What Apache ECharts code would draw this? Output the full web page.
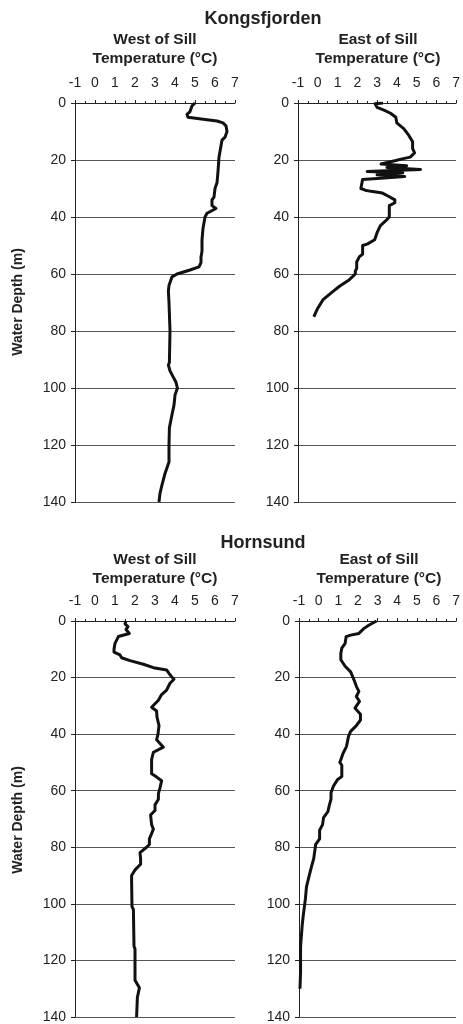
<!DOCTYPE html>
<html>
<head>
<meta charset="utf-8">
<script src="https://cdn.jsdelivr.net/npm/echarts@6/dist/echarts.min.js"></script>
<style>
  html, body { margin: 0; padding: 0; background: #fff; }
  #chart { width: 463px; height: 1024px; }
</style>
</head>
<body>
<div id="chart"></div>
<script>
// temperature ticks and depth ticks
var tempTicks = [-1, 0, 1, 2, 3, 4, 5, 6, 7];
var depthTicks = [0, 20, 40, 60, 80, 100, 120, 140];

// Kongsfjorden, west of sill
var kfWestDepth = [0, 1, 2, 3, 4, 5, 5.4, 5.8, 6.3, 7, 8, 10, 12, 13, 15, 17, 19, 24, 28, 30, 33, 34, 36, 37, 38.7, 40, 42, 44, 48, 52, 54, 56, 57.5, 58.6, 60, 61, 62, 64, 66, 70, 80, 91, 92, 94, 96, 98, 100, 102.5, 106, 110, 114, 120, 126, 130, 134, 137, 140];
var kfWestTemp = [5.0, 4.85, 4.8, 4.75, 4.6, 4.65, 4.75, 5.5, 6.1, 6.4, 6.55, 6.6, 6.5, 6.35, 6.3, 6.25, 6.2, 6.15, 6.1, 6.0, 5.95, 5.85, 5.85, 6.05, 5.6, 5.5, 5.45, 5.4, 5.35, 5.35, 5.3, 5.3, 5.2, 4.75, 4.1, 3.85, 3.8, 3.7, 3.67, 3.7, 3.75, 3.72, 3.67, 3.75, 3.9, 4.05, 4.12, 4.0, 3.95, 3.83, 3.72, 3.7, 3.7, 3.5, 3.35, 3.25, 3.2];

// Kongsfjorden, east of sill
var kfEastDepth = [0, 0.3, 1.5, 2.5, 3.6, 5, 7, 9, 11.3, 13.6, 16, 17.5, 19, 19.6, 20.2, 21.4, 22, 22.6, 23.3, 24, 24.5, 25.2, 25.8, 26.5, 26.8, 27, 30, 30.6, 31, 31.6, 32.8, 34, 35, 36, 40, 40.9, 43, 45.5, 48, 49.5, 50, 53, 54, 55.8, 58, 59, 60, 62, 64.3, 66.6, 69, 72, 75];
var kfEastTemp = [3.3, 2.9, 3.0, 3.35, 3.68, 3.95, 4.0, 4.35, 4.6, 4.8, 4.8, 4.9, 4.68, 4.27, 3.95, 3.2, 4.5, 3.5, 5.2, 2.5, 4.3, 3.0, 4.4, 3.0, 2.27, 2.18, 2.18, 2.4, 2.7, 3.27, 3.6, 3.9, 3.9, 3.62, 3.62, 3.5, 3.17, 3.0, 2.88, 2.5, 2.27, 2.27, 2.1, 1.97, 1.97, 1.9, 1.9, 1.6, 1.1, 0.68, 0.27, 0.0, -0.2];

// Hornsund, west of sill
var hsWestDepth = [0, 1, 2, 3, 4.4, 5.5, 7.9, 10, 11, 12, 13, 14, 15.3, 16.5, 17.3, 18.5, 19.7, 20.6, 22, 24.4, 26, 28, 30.5, 31.8, 34, 37, 40, 42, 44.6, 46.4, 49, 54, 55, 56.5, 59, 61, 63, 65, 67, 68.6, 69, 72, 73.6, 77, 79, 80, 81.9, 84, 86, 88, 90, 92, 101, 102, 115, 116, 127, 129.7, 133, 140];
var hsWestTemp = [1.55, 1.5, 1.65, 1.55, 1.72, 1.17, 1.0, 0.95, 0.95, 1.25, 1.33, 1.75, 2.42, 2.92, 3.58, 3.7, 3.83, 3.95, 3.75, 3.58, 3.33, 3.17, 2.83, 3.08, 3.1, 3.2, 3.15, 3.08, 3.42, 2.92, 2.83, 2.83, 3.05, 3.33, 3.25, 3.17, 3.17, 3.0, 3.0, 2.78, 2.83, 2.83, 2.92, 2.72, 2.72, 2.58, 2.25, 2.28, 2.28, 2.0, 1.83, 1.83, 1.85, 1.92, 1.95, 2.0, 2.0, 2.22, 2.12, 2.08];

// Hornsund, east of sill
var hsEastDepth = [0, 1.5, 2.7, 4.4, 5, 5.5, 7.9, 9.6, 11.4, 13.7, 16, 18, 20.8, 23.1, 24.9, 26.7, 28.4, 30.8, 33, 35, 37, 39, 40.8, 44.3, 46.7, 50, 51, 55, 56, 58.4, 60.7, 63, 65, 67.4, 69.5, 72, 74, 77, 79, 84, 87, 90, 94, 98, 104, 107, 115, 124, 130];
var hsEastTemp = [2.95, 2.55, 2.3, 2.05, 1.63, 1.4, 1.35, 1.18, 1.13, 1.13, 1.35, 1.63, 1.8, 1.92, 2.05, 1.92, 2.08, 1.85, 2.13, 2.13, 1.92, 1.63, 1.52, 1.42, 1.25, 1.08, 1.18, 1.18, 0.97, 0.75, 0.63, 0.63, 0.55, 0.47, 0.25, 0.2, 0.05, 0.05, -0.15, -0.25, -0.37, -0.48, -0.62, -0.67, -0.78, -0.83, -0.92, -0.92, -0.95];

var profileGraph = function () {
    let chart = null;
    let font = '"Liberation Sans", Arial, Helvetica, sans-serif';

    // plot boxes [left, top]
    let boxes = [[75, 103], [298, 103], [75, 621], [299, 621]];
    let boxW = 160;
    let boxH = 399;

    function pairs(temp, depth) {
        let out = [];
        for (let i = 0; i < temp.length; i++) {
            out.push([temp[i], depth[i]]);
        }
        return out;
    }

    function makeX(i) {
        return {
            type: 'value',
            gridIndex: i,
            position: 'top',
            min: tempTicks[0],
            max: tempTicks[tempTicks.length - 1],
            interval: 1,
            axisLine: {onZero: false, lineStyle: {color: '#222', width: 1}},
            axisTick: {show: true, inside: false, length: 3, lineStyle: {color: '#222'}},
            minorTick: {show: true, splitNumber: 2, length: 2, lineStyle: {color: '#222'}},
            splitLine: {show: false},
            axisLabel: {color: '#222', fontSize: 14, fontFamily: font, margin: 13}
        };
    }

    function makeY(i) {
        return {
            type: 'value',
            gridIndex: i,
            inverse: true,
            min: depthTicks[0],
            max: depthTicks[depthTicks.length - 1],
            interval: 20,
            axisLine: {onZero: false, lineStyle: {color: '#222', width: 1}},
            axisTick: {show: true, inside: false, length: 4, lineStyle: {color: '#222'}},
            splitLine: {show: true, lineStyle: {color: '#555', width: 1}},
            axisLabel: {color: '#222', fontSize: 14, fontFamily: font, margin: 9}
        };
    }

    function text(x, y, str, size, rot) {
        return {
            type: 'text',
            x: x,
            y: y,
            rotation: rot || 0,
            style: {
                text: str,
                fill: '#222',
                font: 'bold ' + size + 'px ' + font,
                textAlign: 'center',
                textVerticalAlign: 'middle'
            }
        };
    }

    function init() {
        chart = echarts.init(document.getElementById('chart'), null, {renderer: 'canvas'});
        let grids = [], xs = [], ys = [];
        for (let i = 0; i < 4; i++) {
            grids.push({left: boxes[i][0], top: boxes[i][1], width: boxW, height: boxH, containLabel: false});
            xs.push(makeX(i));
            ys.push(makeY(i));
        }
        let profiles = [
            pairs(kfWestTemp, kfWestDepth),
            pairs(kfEastTemp, kfEastDepth),
            pairs(hsWestTemp, hsWestDepth),
            pairs(hsEastTemp, hsEastDepth)
        ];
        let series = profiles.map(function (d, i) {
            return {
                type: 'line',
                xAxisIndex: i,
                yAxisIndex: i,
                data: d,
                showSymbol: false,
                symbol: 'none',
                lineStyle: {color: '#111', width: 3, join: 'round'},
                z: 5
            };
        });
        let graphics = [
            text(263, 19, 'Kongsfjorden', 18),
            text(155, 40, 'West of Sill', 15.5),
            text(155, 59, 'Temperature (°C)', 15.5),
            text(378, 40, 'East of Sill', 15.5),
            text(378, 59, 'Temperature (°C)', 15.5),
            text(18, 302, 'Water Depth (m)', 14, Math.PI / 2),
            text(263, 543, 'Hornsund', 18),
            text(155, 560, 'West of Sill', 15.5),
            text(155, 579, 'Temperature (°C)', 15.5),
            text(379, 560, 'East of Sill', 15.5),
            text(379, 579, 'Temperature (°C)', 15.5),
            text(18, 820, 'Water Depth (m)', 14, Math.PI / 2)
        ];
        chart.setOption({
            animation: false,
            backgroundColor: '#fff',
            grid: grids,
            xAxis: xs,
            yAxis: ys,
            series: series,
            graphic: graphics
        });
    }

    init();
    return {"init": init};
}();
</script>
</body>
</html>
